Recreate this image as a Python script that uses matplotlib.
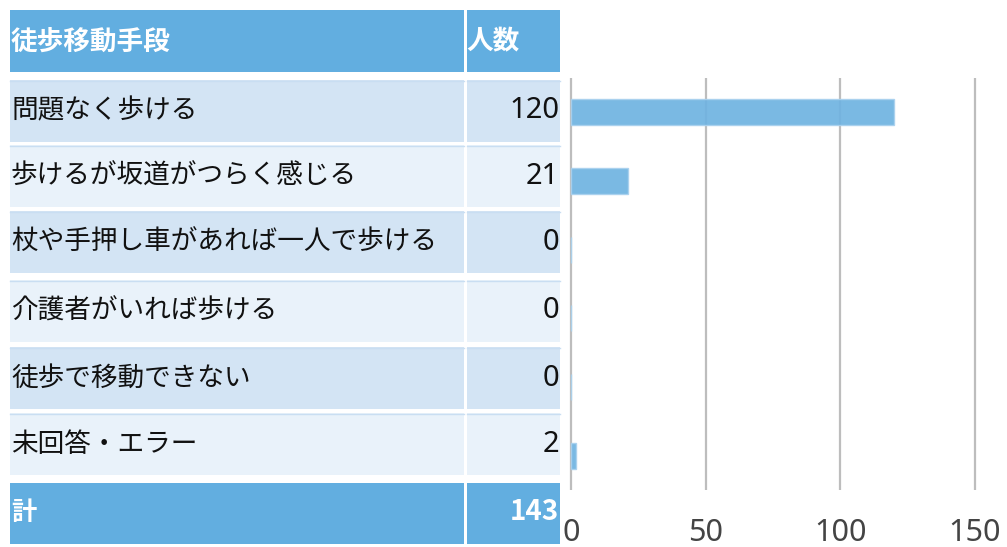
import matplotlib
matplotlib.use("Agg")
import matplotlib.pyplot as plt
from matplotlib.patches import Rectangle

plt.rcParams['font.family'] = ['Noto Sans CJK JP', 'DejaVu Sans']

header = ["徒歩移動手段", "人数"]
categories = ["問題なく歩ける", "歩けるが坂道がつらく感じる", "杖や手押し車があれば一人で歩ける",
              "介護者がいれば歩ける", "徒歩で移動できない", "未回答・エラー"]
counts = [120, 21, 0, 0, 0, 2]
total_label = "計"
total_value = 143
xticks = [0, 50, 100, 150]

W, H = 1007, 547
fig = plt.figure(figsize=(W / 100, H / 100), dpi=100)

# ---- table (layout in pixel coordinates) ----
tab = fig.add_axes([0, 0, 1, 1])
tab.set_xlim(0, W)
tab.set_ylim(H, 0)
tab.axis('off')

hdr_col = '#62aee0'
row_cols = ['#d3e4f4', '#e9f2fa']
c1x, c1w = 10, 454
c2x, c2w = 467, 93
fs = 19.2
fsn = 21
num_font = ['Noto Sans', 'DejaVu Sans']

def cell_pair(y, h, color):
    tab.add_patch(Rectangle((c1x, y), c1w, h, facecolor=color, edgecolor='none'))
    tab.add_patch(Rectangle((c2x, y), c2w, h, facecolor=color, edgecolor='none'))

# header
cell_pair(10, 62, hdr_col)
tab.text(c1x + 1, 42, header[0], color='white', fontsize=fs, fontweight='bold', va='center', ha='left')
tab.text(c2x - 1, 42, header[1], color='white', fontsize=fs, fontweight='bold', va='center', ha='left')

row_tops = [80, 145, 211, 280, 347, 413]
row_h = 62
for i, (cat, val) in enumerate(zip(categories, counts)):
    y = row_tops[i]
    cell_pair(y, row_h, row_cols[i % 2])
    tab.plot([c1x, c1x + c1w], [y + 0.5, y + 0.5], color='#c9def2', lw=1)
    tab.plot([c2x, c2x + c2w], [y + 0.5, y + 0.5], color='#c9def2', lw=1)
    tab.text(c1x + 1, y + row_h / 2, cat, color='#111111', fontsize=fs, va='center', ha='left')
    tab.text(c2x + c2w - 1, y + row_h / 2, str(val), color='#111111', fontsize=fsn,
             va='center', ha='right', family=num_font)

# total
cell_pair(483, 61, hdr_col)
tab.text(c1x + 1, 512, total_label, color='white', fontsize=fs - 1, fontweight='bold', va='center', ha='left')
tab.text(c2x + c2w - 1, 512, str(total_value), color='white', fontsize=fsn - 1, fontweight='bold',
         va='center', ha='right', family=['Noto Sans CJK JP', 'DejaVu Sans'])

# ---- bar chart ----
ppu = (975 - 571) / 150.0
xmin, xmax = -1.5, 152
left_px = 571 + xmin * ppu
ax = fig.add_axes([left_px / W, (H - 490) / H, (xmax - xmin) * ppu / W, 412 / H])
ax.barh(range(len(counts)), counts, height=0.38, color='#6fb3e1', alpha=0.92,
        edgecolor='#a9d1ee', linewidth=1, zorder=3)
ax.set_ylim(len(counts) - 0.5, -0.5)
ax.set_xlim(xmin, xmax)
ax.set_xticks(xticks)
ax.set_yticks([])
ax.grid(axis='x', color='#bdbdbd', linewidth=1.6, zorder=0)
for s in ax.spines.values():
    s.set_visible(False)
ax.tick_params(axis='x', length=0, pad=20, labelsize=22, labelcolor='#444444')
ax.set_facecolor('none')
for lbl in ax.get_xticklabels():
    lbl.set_fontfamily(num_font)

fig.savefig('out.png', dpi=100)
